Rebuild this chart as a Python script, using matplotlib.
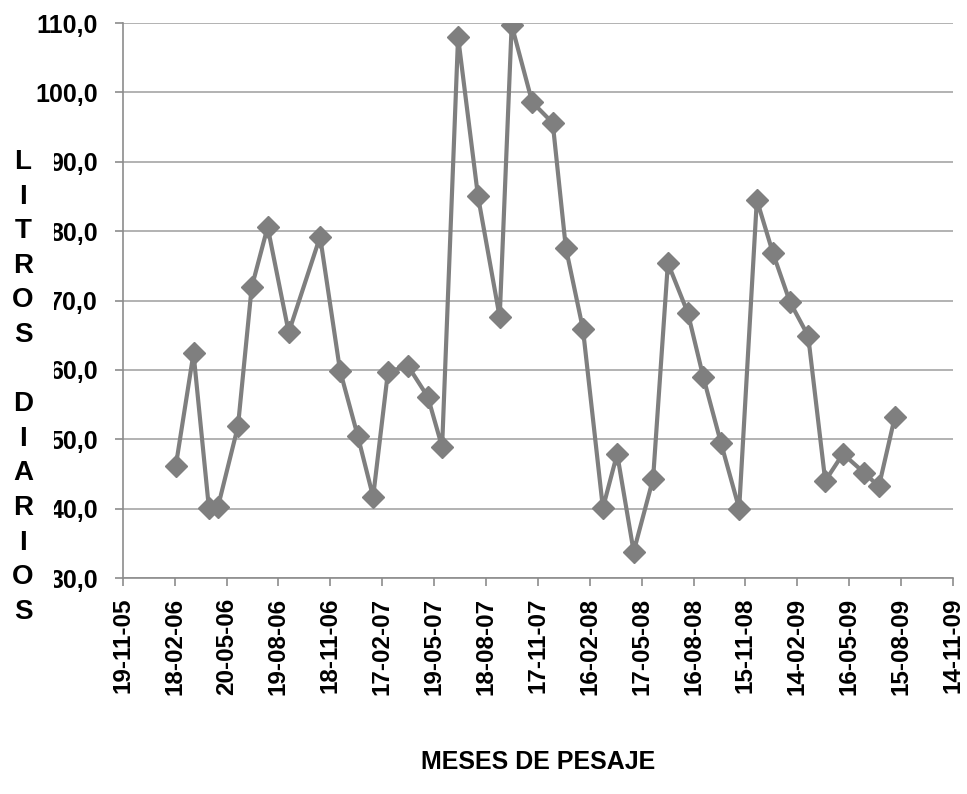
import matplotlib
matplotlib.use('Agg')
import matplotlib.pyplot as plt
import matplotlib.dates as mdates
import pandas as pd
from matplotlib.patches import Rectangle

plt.rcParams['font.family'] = ['Liberation Sans', 'DejaVu Sans']
plt.rcParams['font.weight'] = 'bold'

# fechas de pesaje y litros diarios
fechas = ['2006-02-20', '2006-03-23', '2006-04-19', '2006-05-05', '2006-06-09',
          '2006-07-03', '2006-07-31', '2006-09-06', '2006-10-31', '2006-12-05',
          '2007-01-05', '2007-02-01', '2007-02-27', '2007-04-03', '2007-05-08',
          '2007-06-02', '2007-06-30', '2007-08-04', '2007-09-11', '2007-10-02',
          '2007-11-07', '2007-12-13', '2008-01-05', '2008-02-04', '2008-03-10',
          '2008-04-04', '2008-05-03', '2008-06-06', '2008-07-02', '2008-08-06',
          '2008-09-02', '2008-10-03', '2008-11-04', '2008-12-05', '2009-01-02',
          '2009-02-01', '2009-03-05', '2009-04-04', '2009-05-05', '2009-06-11',
          '2009-07-07', '2009-08-04']
litros = [46.2, 62.4, 40.1, 40.3, 51.9, 71.9, 80.6, 65.4, 79.2, 59.9,
          50.5, 41.7, 59.7, 60.6, 56.1, 48.9, 108.0, 85.0, 67.6, 109.7,
          98.6, 95.6, 77.6, 65.9, 40.1, 47.9, 33.8, 44.3, 75.4, 68.2,
          59.0, 49.5, 40.0, 84.5, 76.9, 69.8, 64.9, 44.0, 47.9, 45.2,
          43.2, 53.2]

inicio = '2005-11-19'
fin = '2009-11-14'
titulo_y = 'LITROS DIARIOS'
titulo_x = 'MESES DE PESAJE'

x = pd.to_datetime(fechas)
gris = '#7F7F7F'

fig = plt.figure(figsize=(9.67, 7.94), dpi=100)
ax = fig.add_axes([0.127, 0.272, 0.8585, 0.699])

ax.plot(x, litros, color=gris, lw=3, marker='D', markersize=11,
        markeredgecolor=gris, zorder=3)

ax.set_xlim(pd.Timestamp(inicio), pd.Timestamp(fin))
ax.set_ylim(30, 110)
ax.set_yticks(range(30, 111, 10))
ax.set_yticklabels([f'{v:.1f}'.replace('.', ',') for v in range(30, 111, 10)])
ax.set_xticks(pd.date_range(inicio, fin, freq='91D'))
ax.xaxis.set_major_formatter(mdates.DateFormatter('%d-%m-%y'))

ax.grid(axis='y', color='#A6A6A6', lw=1.2)
ax.set_axisbelow(True)
for s in ['top', 'right']:
    ax.spines[s].set_visible(False)
for s in ['left', 'bottom']:
    ax.spines[s].set_color('#8C8C8C')
    ax.spines[s].set_linewidth(1.2)
ax.tick_params(axis='both', colors='#8C8C8C', length=6, width=1.2,
               labelcolor='black')
ax.tick_params(axis='y', labelsize=18, pad=12)
ax.tick_params(axis='x', labelsize=17.5, pad=8, labelrotation=90)

# caja blanca del titulo vertical, tapa parte de las etiquetas
fig.patches.append(Rectangle((0, 1 - 632 / 794), 54 / 967, (632 - 145) / 794,
                             transform=fig.transFigure, facecolor='white',
                             edgecolor='none', zorder=5))
for i, letra in enumerate(titulo_y):
    if letra == ' ':
        continue
    fig.text(23 / 967, 1 - (162 + i * 34.6) / 794, letra, fontsize=20,
             fontweight='bold', ha='center', va='center', zorder=6)

fig.text(538 / 967, 1 - 762 / 794, titulo_x, fontsize=18, fontweight='bold',
         ha='center', va='center')

fig.savefig('out.png', dpi=100)
